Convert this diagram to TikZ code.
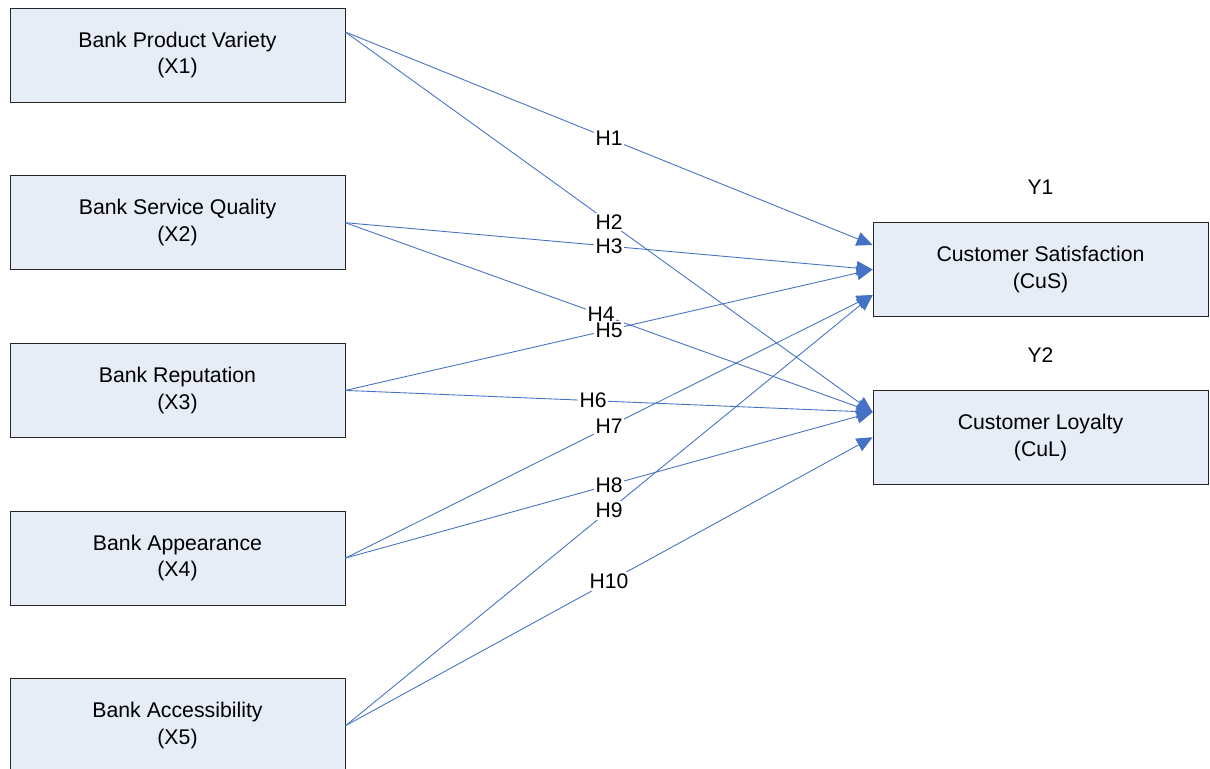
\documentclass[tikz,border=0pt]{standalone}
\usepackage{fontspec}
\setmainfont{Liberation Sans}
\usetikzlibrary{arrows.meta,positioning,calc}
\definecolor{boxfill}{RGB}{230,237,247}
\definecolor{linkblue}{RGB}{68,114,196}

\begin{document}
\begin{tikzpicture}[
  var/.style={draw=black!85,fill=boxfill,minimum width=6.7cm,minimum height=1.88cm,
    align=center,font=\fontsize{12.1}{15.2}\selectfont},
  link/.style={draw=linkblue,line width=0.5pt,-{Triangle[length=3.2mm,width=2.8mm]}},
  hyp/.style={fill=white,inner sep=1pt,font=\fontsize{12}{14}\selectfont},
  lab/.style={font=\fontsize{12}{14}\selectfont}]
  \useasboundingbox (0,0) rectangle (24.2,-15.36);

  % independent variables on the left
  \node[var] (x1) at (3.55,-1.1) {Bank Product Variety\\(X1)};
  \node[var,below=1.46cm of x1] (x2) {Bank Service Quality\\(X2)};
  \node[var,below=1.46cm of x2] (x3) {Bank Reputation\\(X3)};
  \node[var,below=1.46cm of x3] (x4) {Bank Appearance\\(X4)};
  \node[var,below=1.46cm of x4] (x5) {Bank Accessibility\\(X5)};

  % dependent variables on the right
  \node[var] (cus) at (20.81,-5.39) {Customer Satisfaction\\(CuS)};
  \node[var,below=1.46cm of cus] (cul) {Customer Loyalty\\(CuL)};
  \node[lab,above=0.42cm of cus] (y1) {Y1};
  \node[lab,above=0.42cm of cul] (y2) {Y2};

  % where the arrows start and end
  \coordinate (s1) at ($(x1.east)+(0,0.46)$);
  \coordinate (cusA) at ($(cus.west)+(0,0.49)$);
  \coordinate (cusC) at ($(cus.west)+(0,-0.51)$);
  \coordinate (culA) at ($(cul.west)+(0,0.5)$);

  % hypotheses
  \draw[link] (s1) -- node[hyp] {H1} (cusA);
  \draw[link] (s1) -- node[hyp] {H2} (culA);
  \draw[link] (x2.east) -- node[hyp] {H3} (cus.west);
  \draw[link] (x2.east) -- node[hyp,pos=0.485] {H4} (culA);
  \draw[link] (x3.east) -- node[hyp] {H5} (cus.west);
  \draw[link] (x3.east) -- node[hyp,pos=0.47] {H6} (culA);
  \draw[link] (x4.east) -- node[hyp] {H7} (cusC);
  \draw[link] (x4.east) -- node[hyp] {H8} (culA);
  \draw[link] (x5.east) -- node[hyp] {H9} (cusC);
  \draw[link] (x5.east) -- node[hyp] {H10} (cul.west);
\end{tikzpicture}
\end{document}
